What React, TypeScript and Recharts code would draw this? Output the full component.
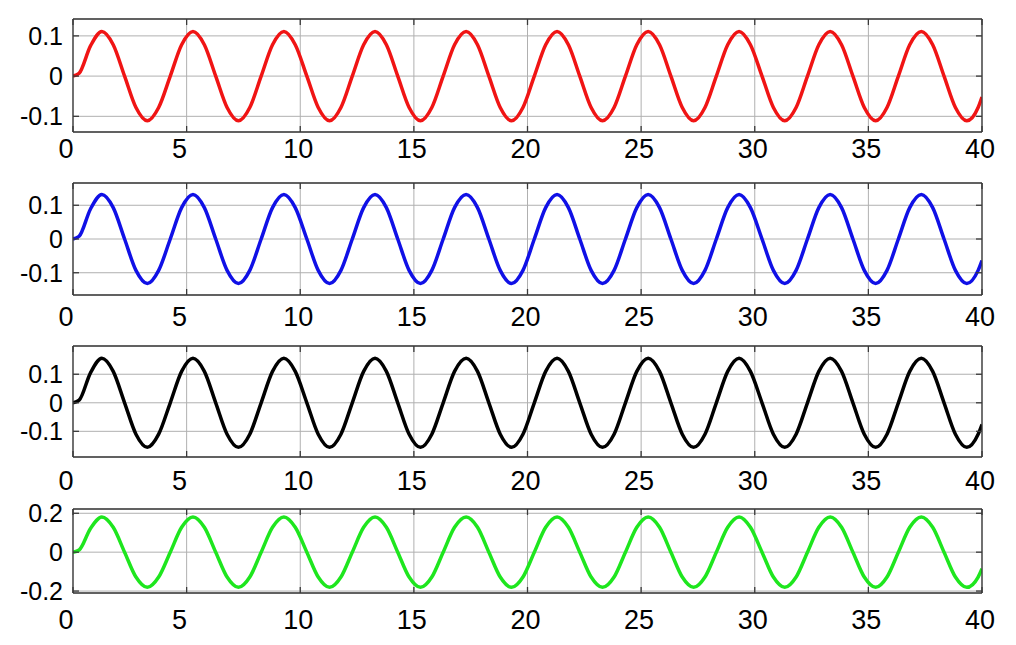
import React from 'react';
import { LineChart, Line, XAxis, YAxis, CartesianGrid } from 'recharts';

// time samples (s): zero crossings, half-amplitude and peaks
const TIME = [
  0, 0.27, 0.77, 1.27, 1.77, 2.27, 2.77, 3.27, 3.77,
  4.28, 4.78, 5.28, 5.78, 6.28, 6.78, 7.28, 7.78,
  8.28, 8.78, 9.28, 9.78, 10.29, 10.79, 11.29, 11.79,
  12.29, 12.79, 13.29, 13.79, 14.29, 14.79, 15.29, 15.79,
  16.29, 16.79, 17.3, 17.8, 18.3, 18.8, 19.3, 19.8,
  20.3, 20.8, 21.3, 21.8, 22.3, 22.8, 23.3, 23.81,
  24.31, 24.81, 25.31, 25.81, 26.31, 26.81, 27.31, 27.81,
  28.31, 28.81, 29.31, 29.81, 30.32, 30.82, 31.32, 31.82,
  32.32, 32.82, 33.32, 33.82, 34.32, 34.82, 35.32, 35.82,
  36.32, 36.82, 37.33, 37.83, 38.33, 38.83, 39.33, 39.83,
  40,
];

const RED = [
  0, 0.007, 0.075, 0.111, 0.078, 0, -0.078, -0.111, -0.078,
  0, 0.078, 0.111, 0.078, 0, -0.078, -0.111, -0.078,
  0, 0.078, 0.111, 0.078, 0, -0.078, -0.111, -0.078,
  0, 0.078, 0.111, 0.078, 0, -0.078, -0.111, -0.078,
  0, 0.078, 0.111, 0.078, 0, -0.078, -0.111, -0.078,
  0, 0.078, 0.111, 0.078, 0, -0.078, -0.111, -0.078,
  0, 0.078, 0.111, 0.078, 0, -0.078, -0.111, -0.078,
  0, 0.078, 0.111, 0.078, 0, -0.078, -0.111, -0.078,
  0, 0.078, 0.111, 0.078, 0, -0.078, -0.111, -0.078,
  0, 0.078, 0.111, 0.078, 0, -0.078, -0.111, -0.078,
  -0.052,
];

const BLUE = [
  0, 0.008, 0.089, 0.132, 0.093, 0, -0.093, -0.132, -0.093,
  0, 0.093, 0.132, 0.093, 0, -0.093, -0.132, -0.093,
  0, 0.093, 0.132, 0.093, 0, -0.093, -0.132, -0.093,
  0, 0.093, 0.132, 0.093, 0, -0.093, -0.132, -0.093,
  0, 0.093, 0.132, 0.093, 0, -0.093, -0.132, -0.093,
  0, 0.093, 0.132, 0.093, 0, -0.093, -0.132, -0.093,
  0, 0.093, 0.132, 0.093, 0, -0.093, -0.132, -0.093,
  0, 0.093, 0.132, 0.093, 0, -0.093, -0.132, -0.093,
  0, 0.093, 0.132, 0.093, 0, -0.093, -0.132, -0.093,
  0, 0.093, 0.132, 0.093, 0, -0.093, -0.132, -0.093,
  -0.064,
];

const BLACK = [
  0, 0.009, 0.105, 0.156, 0.11, 0, -0.11, -0.156, -0.11,
  0, 0.11, 0.156, 0.11, 0, -0.11, -0.156, -0.11,
  0, 0.11, 0.156, 0.11, 0, -0.11, -0.156, -0.11,
  0, 0.11, 0.156, 0.11, 0, -0.11, -0.156, -0.11,
  0, 0.11, 0.156, 0.11, 0, -0.11, -0.156, -0.11,
  0, 0.11, 0.156, 0.11, 0, -0.11, -0.156, -0.11,
  0, 0.11, 0.156, 0.11, 0, -0.11, -0.156, -0.11,
  0, 0.11, 0.156, 0.11, 0, -0.11, -0.156, -0.11,
  0, 0.11, 0.156, 0.11, 0, -0.11, -0.156, -0.11,
  0, 0.11, 0.156, 0.11, 0, -0.11, -0.156, -0.11,
  -0.076,
];

const GREEN = [
  0, 0.011, 0.122, 0.181, 0.128, 0, -0.128, -0.181, -0.128,
  0, 0.128, 0.181, 0.128, 0, -0.128, -0.181, -0.128,
  0, 0.128, 0.181, 0.128, 0, -0.128, -0.181, -0.128,
  0, 0.128, 0.181, 0.128, 0, -0.128, -0.181, -0.128,
  0, 0.128, 0.181, 0.128, 0, -0.128, -0.181, -0.128,
  0, 0.128, 0.181, 0.128, 0, -0.128, -0.181, -0.128,
  0, 0.128, 0.181, 0.128, 0, -0.128, -0.181, -0.128,
  0, 0.128, 0.181, 0.128, 0, -0.128, -0.181, -0.128,
  0, 0.128, 0.181, 0.128, 0, -0.128, -0.181, -0.128,
  0, 0.128, 0.181, 0.128, 0, -0.128, -0.181, -0.128,
  -0.085,
];

const X_TICKS = [0, 5, 10, 15, 20, 25, 30, 35, 40];
const Y_TICKS_SMALL = [-0.1, 0, 0.1];
const Y_TICKS_LARGE = [-0.2, 0, 0.2];

const FONT = '"Liberation Sans", Arial, Helvetica, sans-serif';
const BOX = '#3a3a3a';
const GRID = '#b0b0b0';

const panels = [
  { values: RED, color: '#f01414', domain: [-0.139, 0.142], yTicks: Y_TICKS_SMALL, top: 19, height: 113, labelGap: 13 },
  { values: BLUE, color: '#1010e6', domain: [-0.166, 0.166], yTicks: Y_TICKS_SMALL, top: 183, height: 112, labelGap: 18 },
  { values: BLACK, color: '#000000', domain: [-0.19, 0.199], yTicks: Y_TICKS_SMALL, top: 346, height: 111, labelGap: 20 },
  { values: GREEN, color: '#1ee61e', domain: [-0.21, 0.222], yTicks: Y_TICKS_LARGE, top: 509, height: 84, labelGap: 23 },
];

const XTick = (props: any) => {
  const { x, y, payload } = props;
  const v = payload.value;
  const dx = v < 10 ? -7 : -2;
  return (
    <text x={x + dx} y={y} dy="0.71em" textAnchor="middle" fontSize={27} fill="#000" fontFamily={FONT}>
      {v}
    </text>
  );
};

const PAD_TOP = 14;
const AXIS_H = 50;

const App: React.FC = () => {
  return (
    <div style={{ position: 'absolute', left: 0, top: 0, width: 1016, height: 645, background: '#fff' }}>
      {panels.map((p, idx) => {
        const data = TIME.map((t, i) => ({ t, v: p.values[i] }));
        return (
          <div key={idx} style={{ position: 'absolute', left: 0, top: p.top - PAD_TOP }}>
            <LineChart
              width={1016}
              height={p.height + PAD_TOP + AXIS_H}
              data={data}
              margin={{ top: PAD_TOP, right: 34, bottom: 0, left: 0 }}
            >
              <CartesianGrid stroke={GRID} strokeWidth={1} xAxisId="b" yAxisId="l" />
              <XAxis
                xAxisId="b"
                dataKey="t"
                type="number"
                domain={[0, 40]}
                allowDataOverflow
                ticks={X_TICKS}
                interval={0}
                height={AXIS_H}
                tickSize={-6}
                tickMargin={p.labelGap}
                tick={<XTick />}
                stroke={BOX}
                strokeWidth={1.3}
                tickLine={{ stroke: BOX }}
              />
              <XAxis
                xAxisId="t"
                orientation="top"
                mirror
                dataKey="t"
                type="number"
                domain={[0, 40]}
                allowDataOverflow
                ticks={X_TICKS}
                interval={0}
                tickSize={6}
                tickFormatter={() => ''}
                stroke={BOX}
                strokeWidth={1.3}
              />
              <YAxis
                yAxisId="l"
                type="number"
                domain={p.domain}
                allowDataOverflow
                ticks={p.yTicks}
                interval={0}
                width={73}
                tickSize={-6}
                tickMargin={16}
                tick={{ fontSize: 25, fill: '#000', fontFamily: FONT }}
                tickFormatter={(v: number) => String(v)}
                stroke={BOX}
                strokeWidth={1.3}
              />
              <YAxis
                yAxisId="r"
                orientation="right"
                mirror
                type="number"
                domain={p.domain}
                allowDataOverflow
                ticks={p.yTicks}
                interval={0}
                tickSize={6}
                tickFormatter={() => ''}
                stroke={BOX}
                strokeWidth={1.3}
              />
              <Line
                xAxisId="b"
                yAxisId="l"
                type="monotone"
                dataKey="v"
                stroke={p.color}
                strokeWidth={3.5}
                dot={false}
                isAnimationActive={false}
              />
            </LineChart>
          </div>
        );
      })}
    </div>
  );
};

export default App;
